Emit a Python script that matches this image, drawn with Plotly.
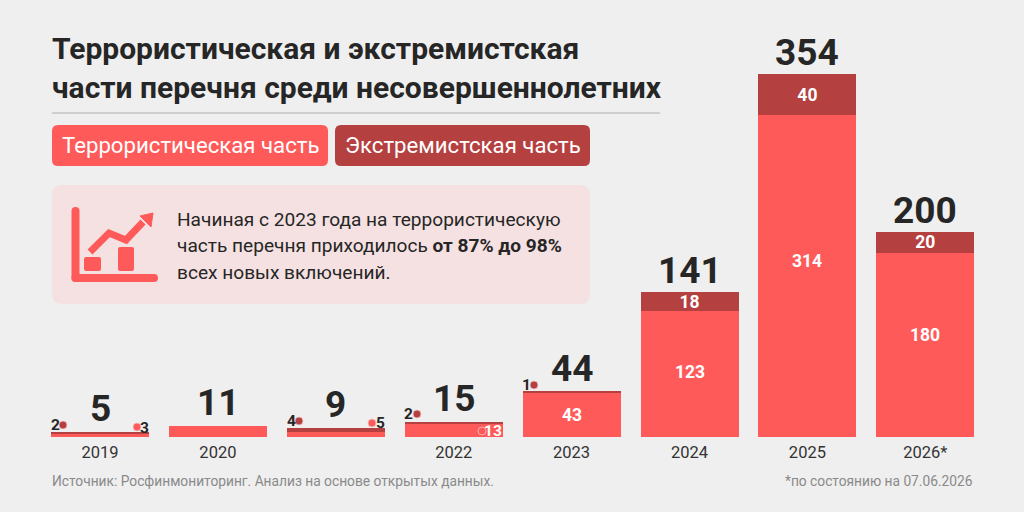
import plotly.graph_objects as go

years = ["2019", "2020", "", "2022", "2023", "2024", "2025", "2026*"]
terror = [3, 11, 5, 13, 43, 123, 314, 180]
extrem = [2, 0, 4, 2, 1, 18, 40, 20]
totals = [5, 11, 9, 15, 44, 141, 354, 200]
title_lines = ["Террористическая и экстремистская", "части перечня среди несовершеннолетних"]
legend_names = ["Террористическая часть", "Экстремистская часть"]
note_lines = ["Начиная с 2023 года на террористическую",
              "часть перечня приходилось <b>от 87% до 98%</b>",
              "всех новых включений."]
source = "Источник: Росфинмониторинг. Анализ на основе открытых данных."
footnote = "*по состоянию на 07.06.2026"

W, H = 1024, 512
BASE = 437          # baseline of the bars, px from the top
RED = "#FF5A5A"
DARK = "#B54040"
BG = "#EFEFEF"
INK = "#262626"
FONT = "Roboto"
STEP = 117.9
xs = list(range(len(years)))
# big red labels sit above the segment centre in the original
label_lift = {43: 0, 123: 2, 314: 15, 180: 10}

def px(x):
    return x / W

def py(y):
    return (BASE - y) / BASE

def text(x, y, s, size, color=INK, anchor="left", bold=False):
    return dict(xref="paper", yref="paper", x=px(x), y=py(y), text=s, showarrow=False,
                xanchor=anchor, yanchor="middle", align="left", borderpad=0,
                font=dict(family=FONT, size=size, color=color, weight=700 if bold else 400))

def rrect(x0, y0, x1, y1, r):
    p = f"M{px(x0+r)},{py(y0)} L{px(x1-r)},{py(y0)} Q{px(x1)},{py(y0)} {px(x1)},{py(y0+r)} "
    p += f"L{px(x1)},{py(y1-r)} Q{px(x1)},{py(y1)} {px(x1-r)},{py(y1)} "
    p += f"L{px(x0+r)},{py(y1)} Q{px(x0)},{py(y1)} {px(x0)},{py(y1-r)} "
    p += f"L{px(x0)},{py(y0+r)} Q{px(x0)},{py(y0)} {px(x0+r)},{py(y0)} Z"
    return p

def panel(x0, y0, x1, y1, r, color):
    return dict(type="path", xref="paper", yref="paper", path=rrect(x0, y0, x1, y1, r),
                fillcolor=color, line_width=0, layer="below")

def stroke(points):
    p = "M" + " L".join(f"{px(a)},{py(b)}" for a, b in points)
    return dict(type="path", xref="paper", yref="paper", path=p, line=dict(color=RED, width=7))

def dot(x, y, color, hollow=False):
    return dict(type="circle", xref="paper", yref="paper",
                x0=px(x - 4), x1=px(x + 4), y0=py(y + 4), y1=py(y - 4),
                fillcolor="rgba(0,0,0,0)" if hollow else color,
                line=dict(color="#F7C4C4", width=0.8))

fig = go.Figure()
fig.add_bar(x=xs, y=terror, marker_color=RED, marker_line_width=0, width=98 / STEP)
fig.add_bar(x=xs, y=extrem, marker_color=DARK, marker_line_width=0, width=98 / STEP,
            text=[str(v) if v > 10 else "" for v in extrem], textposition="inside",
            insidetextanchor="middle", textangle=0, constraintext="none",
            textfont=dict(family=FONT, size=17.5, color="white", weight=700))

annotations = []
for i, t in enumerate(totals):
    # totals sit on top of the stacks, the low ones a touch higher
    annotations.append(dict(x=i, y=t, xref="x", yref="y", text=str(t), showarrow=False,
                            yanchor="bottom", yshift=0 if t < 50 else -2,
                            font=dict(family=FONT, size=37, color=INK, weight=700)))
    if terror[i] in label_lift:
        annotations.append(dict(x=i, y=terror[i] / 2, xref="x", yref="y", text=str(terror[i]),
                                showarrow=False, yshift=label_lift[terror[i]],
                                font=dict(family=FONT, size=17.5, color="white", weight=700)))

annotations += [
    text(51, 49, title_lines[0], 30, bold=True),
    text(51, 87, title_lines[1], 30, bold=True),
    text(61, 145, legend_names[0], 22.2, "white"),
    text(344, 145, legend_names[1], 22.2, "white"),
    text(176, 220, note_lines[0], 19.1),
    text(176, 246, note_lines[1], 19.1),
    text(176, 272, note_lines[2], 19.1),
    text(51, 481, source, 13.75, "#8A8A8A"),
    text(974, 481, footnote, 13.75, "#8A8A8A", anchor="right"),
    # callouts for the segments too thin to hold a number
    text(55, 425, str(extrem[0]), 15.5, bold=True, anchor="center"),
    text(144, 428, str(terror[0]), 15.5, bold=True, anchor="center"),
    text(291, 421, str(extrem[2]), 15.5, bold=True, anchor="center"),
    text(380, 423, str(terror[2]), 15.5, bold=True, anchor="center"),
    text(408, 414, str(extrem[3]), 15.5, bold=True, anchor="center"),
    text(493, 431, str(terror[3]), 15.5, "white", bold=True, anchor="center"),
    text(526, 385, str(extrem[4]), 15.5, bold=True, anchor="center"),
]

shapes = [
    dict(type="line", xref="paper", yref="paper", x0=px(52), x1=px(660), y0=py(113), y1=py(113),
         line=dict(color="#CFCFCF", width=2)),
    panel(52, 125, 328, 166, 6, RED),
    panel(335, 125, 590, 166, 6, DARK),
    panel(52, 185, 590, 304, 10, "#F5E1E1"),
    # chart icon
    dict(panel(71.5, 207, 79.5, 282, 4, RED), layer="above"),
    dict(panel(71.5, 274, 158, 282, 4, RED), layer="above"),
    stroke([(90, 252), (109, 233), (126, 240), (143, 222)]),
    dict(type="path", xref="paper", yref="paper",
         path=f"M{px(140)},{py(216)} L{px(153)},{py(213)} L{px(151)},{py(227)} Z",
         fillcolor=RED, line=dict(color=RED, width=1)),
    panel(84, 257, 101, 271, 2, RED),
    panel(118, 247, 134, 271, 2, RED),
    dot(63, 425, DARK),
    dot(137, 427, RED),
    dot(299, 421, DARK),
    dot(372, 423, RED),
    dot(417, 414, DARK),
    dot(482, 431, RED, hollow=True),
    dot(534, 385, DARK),
]

fig.update_layout(
    width=W, height=H, barmode="stack", showlegend=False,
    paper_bgcolor=BG, plot_bgcolor="rgba(0,0,0,0)",
    margin=dict(l=0, r=0, t=0, b=H - BASE, autoexpand=False),
    annotations=annotations, shapes=shapes,
    xaxis=dict(range=[-100 / STEP, (W - 100) / STEP], tickvals=xs, ticktext=years,
               showgrid=False, zeroline=False, showline=False, ticks="outside", ticklen=0,
               tickcolor="rgba(0,0,0,0)", tickfont=dict(family=FONT, size=16.5, color="#333333")),
    yaxis=dict(range=[0, BASE / 1.025], visible=False),
)
# page default margin would shift the figure by 8px
fig.write_html("out.html", config={"displayModeBar": False},
               post_script="document.body.style.margin='0';document.body.style.background='#EFEFEF';")
